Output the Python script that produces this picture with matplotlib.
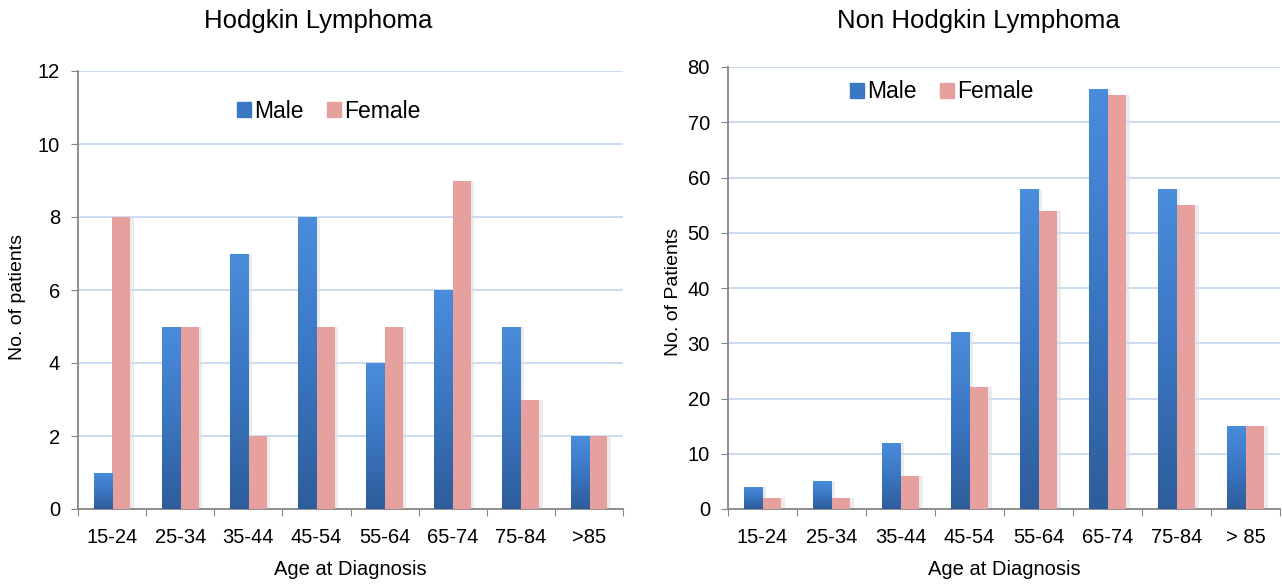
import numpy as np
import matplotlib
matplotlib.use("Agg")
import matplotlib.pyplot as plt
from matplotlib.colors import LinearSegmentedColormap

plt.rcParams['font.family'] = ['Liberation Sans', 'DejaVu Sans']

# data
hl_ages = ["15-24", "25-34", "35-44", "45-54", "55-64", "65-74", "75-84", ">85"]
hl_male = [1, 5, 7, 8, 4, 6, 5, 2]
hl_female = [8, 5, 2, 5, 5, 9, 3, 2]

nhl_ages = ["15-24", "25-34", "35-44", "45-54", "55-64", "65-74", "75-84", "> 85"]
nhl_male = [4, 5, 12, 32, 58, 76, 58, 15]
nhl_female = [2, 2, 6, 22, 54, 75, 55, 15]

blue_cm = LinearSegmentedColormap.from_list("b", ["#2e5d9a", "#3a76c2", "#4a8ddc"])
pink = "#e6a19f"
grid_c = "#c6d9f0"
spine_c = "#868686"


def draw_bars(ax, x, vals, width, kind):
    for xi, v in zip(x, vals):
        # soft shadow round the bar, heavier on the right
        ax.bar(xi + 0.03, v, width + 0.04, color="#dedede", alpha=0.55, zorder=2, linewidth=0)
        b = ax.bar(xi, v, width, color=pink if kind == "f" else "#3b78c4",
                   zorder=3, linewidth=0)[0]
        if kind == "m":
            grad = np.linspace(0, 1, 256).reshape(-1, 1)
            im = ax.imshow(grad, cmap=blue_cm, origin="lower", aspect="auto",
                           extent=[xi - width / 2, xi + width / 2, 0, v], zorder=4)
            im.set_clip_path(b)


def panel(ax, ages, male, female, ymax, ystep, leg_pos):
    x = np.arange(len(ages))
    w = 0.27
    draw_bars(ax, x - w / 2, male, w, "m")
    draw_bars(ax, x + w / 2, female, w, "f")
    ax.set_xlim(-0.5, len(ages) - 0.5)
    ax.set_ylim(0, ymax)
    ax.set_yticks(np.arange(0, ymax + 1, ystep))
    ax.set_xticks(np.arange(-0.5, len(ages)), minor=False)
    ax.set_xticklabels([])
    ax.set_xticks(x, minor=True)
    ax.set_xticklabels(ages, minor=True, fontsize=14.5)
    ax.tick_params(axis="x", which="minor", length=0, pad=14)
    ax.tick_params(axis="x", which="major", length=5, color=spine_c, direction="out")
    ax.tick_params(axis="y", length=5, color=spine_c, labelsize=14.5, pad=8)
    ax.yaxis.grid(True, color=grid_c, linewidth=1.3, zorder=0)
    ax.set_axisbelow(True)
    for s in ["top", "right"]:
        ax.spines[s].set_visible(False)
    for s in ["left", "bottom"]:
        ax.spines[s].set_color(spine_c)
        ax.spines[s].set_linewidth(1.3)
    ax.set_xlabel("Age at Diagnosis", fontsize=14.5, labelpad=9)
    hm = plt.Rectangle((0, 0), 1, 1, color="#3b78c4")
    hf = plt.Rectangle((0, 0), 1, 1, color=pink)
    ax.legend([hm, hf], ["Male", "Female"], loc="center", bbox_to_anchor=leg_pos,
              bbox_transform=ax.figure.transFigure, ncol=2, frameon=False,
              fontsize=16.5, handlelength=0.6, handleheight=0.6, handletextpad=0.15,
              columnspacing=1.0)


W, H = 1282, 584
fig = plt.figure(figsize=(12.82, 5.84), dpi=100)
ax1 = fig.add_axes([78 / W, 1 - 509 / H, 545 / W, 438 / H])
ax2 = fig.add_axes([728 / W, 1 - 509 / H, 552 / W, 442 / H])

panel(ax1, hl_ages, hl_male, hl_female, 12, 2, (329 / W, 1 - 111 / H))
panel(ax2, nhl_ages, nhl_male, nhl_female, 80, 10, (942 / W, 1 - 92 / H))

fig.text(318 / W, 1 - 21 / H, "Hodgkin Lymphoma", fontsize=18.5, ha="center", va="center")
fig.text(978 / W, 1 - 21 / H, "Non Hodgkin Lymphoma", fontsize=18.5, ha="center", va="center")
fig.text(18 / W, 1 - 297 / H, "No. of patients", fontsize=14, rotation=90,
         ha="center", va="center")
fig.text(673 / W, 1 - 292 / H, "No. of Patients", fontsize=14, rotation=90,
         ha="center", va="center")

fig.savefig("out.png", dpi=100)
